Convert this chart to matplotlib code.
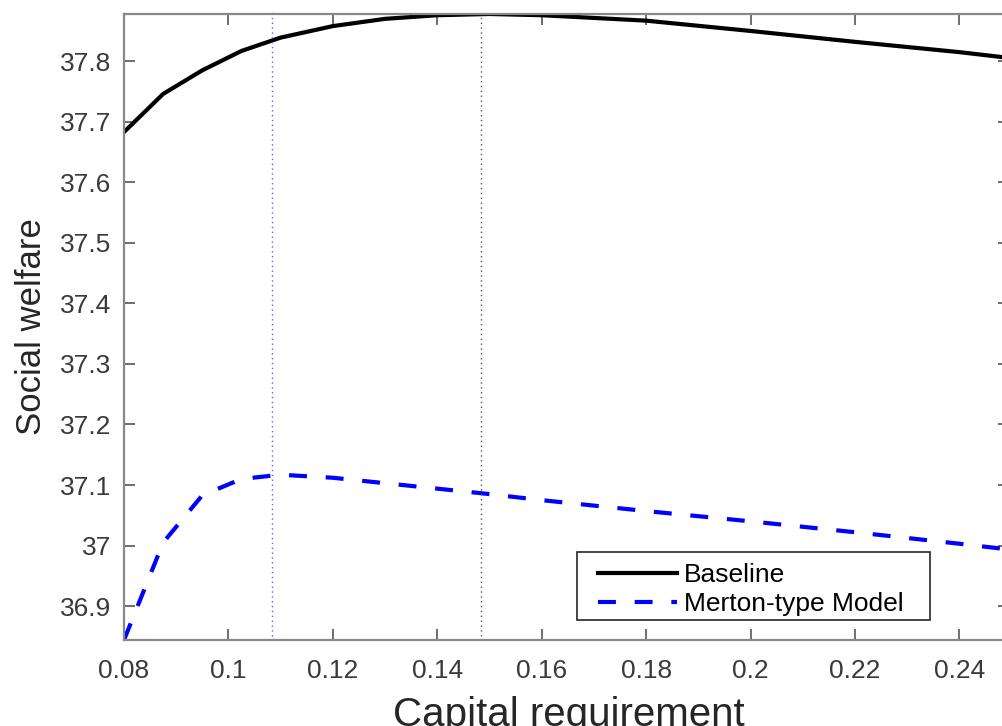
import numpy as np
import matplotlib
matplotlib.use("Agg")
import matplotlib.pyplot as plt
from matplotlib.patches import Rectangle
from matplotlib.ticker import FuncFormatter

plt.rcParams['font.family'] = ['Liberation Sans', 'DejaVu Sans']

# capital requirement grid and welfare
cap_req = [0.08, 0.0875, 0.095, 0.1025, 0.11, 0.12, 0.13, 0.14, 0.15,
           0.16, 0.18, 0.20, 0.22, 0.24, 0.25]
baseline = [37.683, 37.746, 37.785, 37.817, 37.839, 37.858, 37.870, 37.876, 37.878,
            37.876, 37.867, 37.850, 37.832, 37.815, 37.805]
merton = [36.844, 37.005, 37.083, 37.110, 37.117, 37.112, 37.103, 37.094, 37.085,
          37.075, 37.057, 37.040, 37.022, 37.003, 36.993]
opt_merton = 0.1084
opt_base = 0.1484

x_ticks = [0.08, 0.1, 0.12, 0.14, 0.16, 0.18, 0.2, 0.22, 0.24]
y_ticks = [36.9, 37.0, 37.1, 37.2, 37.3, 37.4, 37.5, 37.6, 37.7, 37.8]

W, H = 1003, 726
fig = plt.figure(figsize=(W / 100, H / 100), dpi=100)
ax = fig.add_axes([124 / W, (H - 640) / H, (1009 - 124) / W, (640 - 14) / H])

ax.plot(cap_req, baseline, color='black', lw=3, label='Baseline')
ax.plot(cap_req, merton, color='#0000ff', lw=3, dashes=(4.3, 4.5),
        label='Merton-type Model')

ylo, yhi = min(merton), max(baseline)
ax.plot([opt_merton, opt_merton], [ylo + 0.006, yhi + 0.008], color='#6060ff', lw=1,
        ls=(0, (1, 2.5)), clip_on=False)
ax.plot([opt_base, opt_base], [ylo + 0.006, yhi + 0.008], color='#555555', lw=1,
        ls=(0, (1, 2.5)), clip_on=False)

ax.set_xlim(0.08, 0.2495)
ax.set_ylim(ylo, yhi)
ax.set_xticks(x_ticks)
ax.set_yticks(y_ticks)
ax.xaxis.set_major_formatter(FuncFormatter(lambda v, p: f'{v:g}'))
ax.yaxis.set_major_formatter(FuncFormatter(lambda v, p: f'{round(v, 2):g}'))
ax.tick_params(direction='in', length=8, width=1.2, colors='#555555',
               labelcolor='#3a3a3a', labelsize=19, top=True, right=True)
ax.tick_params(axis='x', pad=14)
ax.tick_params(axis='y', pad=9)
for s in ax.spines.values():
    s.set_color('#888888')
    s.set_linewidth(1.6)

ax.set_xlabel('Capital requirement', fontsize=29, color='#262626')
ax.xaxis.set_label_coords(0.503, -0.089)
ax.set_ylabel('Social welfare', fontsize=25, color='#262626')
ax.yaxis.set_label_coords(-0.086, 0.5)

# legend without its own frame; the box is drawn separately to get the wide margins
leg = ax.legend(loc='upper left', bbox_to_anchor=(0.5356, 0.123), borderaxespad=0,
                borderpad=0, fontsize=19, frameon=False,
                handlelength=3.0, handletextpad=0.25, labelspacing=0.2)
ax.add_patch(Rectangle((0.5119, 0.032), 0.3989, 0.1086, transform=ax.transAxes,
                       facecolor='white', edgecolor='#262626', lw=1.2, zorder=4))
leg.set_zorder(5)

fig.savefig('out.png', dpi=100)
